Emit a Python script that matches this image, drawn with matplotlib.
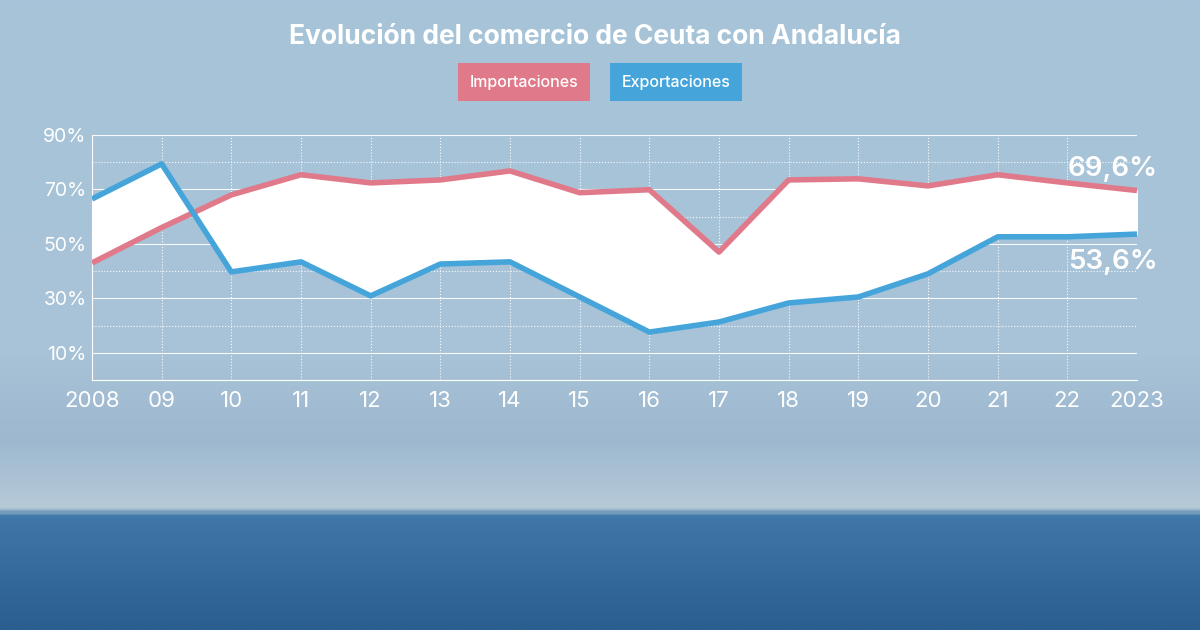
import matplotlib
matplotlib.use("Agg")
import matplotlib.pyplot as plt
import numpy as np
from matplotlib.colors import LinearSegmentedColormap

plt.rcParams['font.family'] = ['Inter', 'DejaVu Sans']

years = list(range(2008, 2024))
xlabels = ["2008","09","10","11","12","13","14","15","16","17","18","19","20","21","22","2023"]
importaciones = [43, 56, 68, 75.4, 72.4, 73.5, 76.8, 68.8, 69.9, 47, 73.5, 73.9, 71.3, 75.4, 72.4, 69.6]
exportaciones = [66.5, 79.4, 39.7, 43.4, 30.9, 42.6, 43.4, 30.5, 17.6, 21.3, 28.3, 30.5, 39, 52.6, 52.6, 53.6]
yticks = [10, 30, 50, 70, 90]

PINK = "#e07a8b"
BLUE = "#45a5db"

fig = plt.figure(figsize=(12, 6.3), dpi=100)
bg = fig.add_axes([0, 0, 1, 1])
cmap = LinearSegmentedColormap.from_list("bg", [(0, "#a6c3d9"), (0.55, "#a9c4d8"), (0.7, "#9db8cf"),
                                               (0.81, "#b7cad8"), (0.82, "#3f78a8"), (1, "#2a5f90")])
grad = np.linspace(0, 1, 300).reshape(-1, 1)
bg.imshow(grad, aspect="auto", cmap=cmap, extent=[0, 1, 0, 1], origin="upper")
bg.set_xlim(0, 1); bg.set_ylim(0, 1); bg.axis("off")

ax = fig.add_axes([92/1200, 1-380/630, (1137-92)/1200, (380-135)/630])
ax.patch.set_alpha(0)
ax.set_xlim(years[0], years[-1])
ax.set_ylim(0, 90)
ax.fill_between(years, importaciones, exportaciones, color="white", zorder=1)
for y in range(10, 91, 10):
    ax.axhline(y, color="white", lw=0.8, ls=":" if y not in yticks else "-", alpha=0.9, zorder=0.5)
for x in years:
    ax.axvline(x, color="white", lw=0.8, ls=":", alpha=0.9, zorder=0.5)
ax.plot(years, importaciones, color=PINK, lw=4, zorder=3, solid_capstyle="butt")
ax.plot(years, exportaciones, color=BLUE, lw=4, zorder=3, solid_capstyle="butt")
ax.set_xticks(years)
ax.set_xticklabels(xlabels, fontsize=16, color="white")
ax.set_yticks(yticks)
ax.set_yticklabels([f"{v}%" for v in yticks], fontsize=14, color="white")
ax.tick_params(length=0, pad=8)
ax.tick_params(axis="y", pad=4)
for s in ["top", "right"]:
    ax.spines[s].set_visible(False)
for s in ["left", "bottom"]:
    ax.spines[s].set_color("white")
ax.text(2023.3, 77.5, "69,6%", fontsize=20, color="white", fontweight="semibold", ha="right", va="center")
ax.text(2023.3, 43.5, "53,6%", fontsize=20, color="white", fontweight="semibold", ha="right", va="center")

fig.text(595/1200, 1-37/630, "Evolución del comercio de Ceuta con Andalucía", fontsize=19,
         fontweight="bold", color="white", ha="center", va="center")
fig.text(524/1200, 1-82/630, "Importaciones", fontsize=11.5, color="white", ha="center", va="center",
         fontweight="medium", bbox=dict(boxstyle="square,pad=0.7", fc=PINK, ec="none"))
fig.text(676/1200, 1-82/630, "Exportaciones", fontsize=11.5, color="white", ha="center", va="center",
         fontweight="medium", bbox=dict(boxstyle="square,pad=0.7", fc=BLUE, ec="none"))

fig.savefig("out.png", dpi=100)
